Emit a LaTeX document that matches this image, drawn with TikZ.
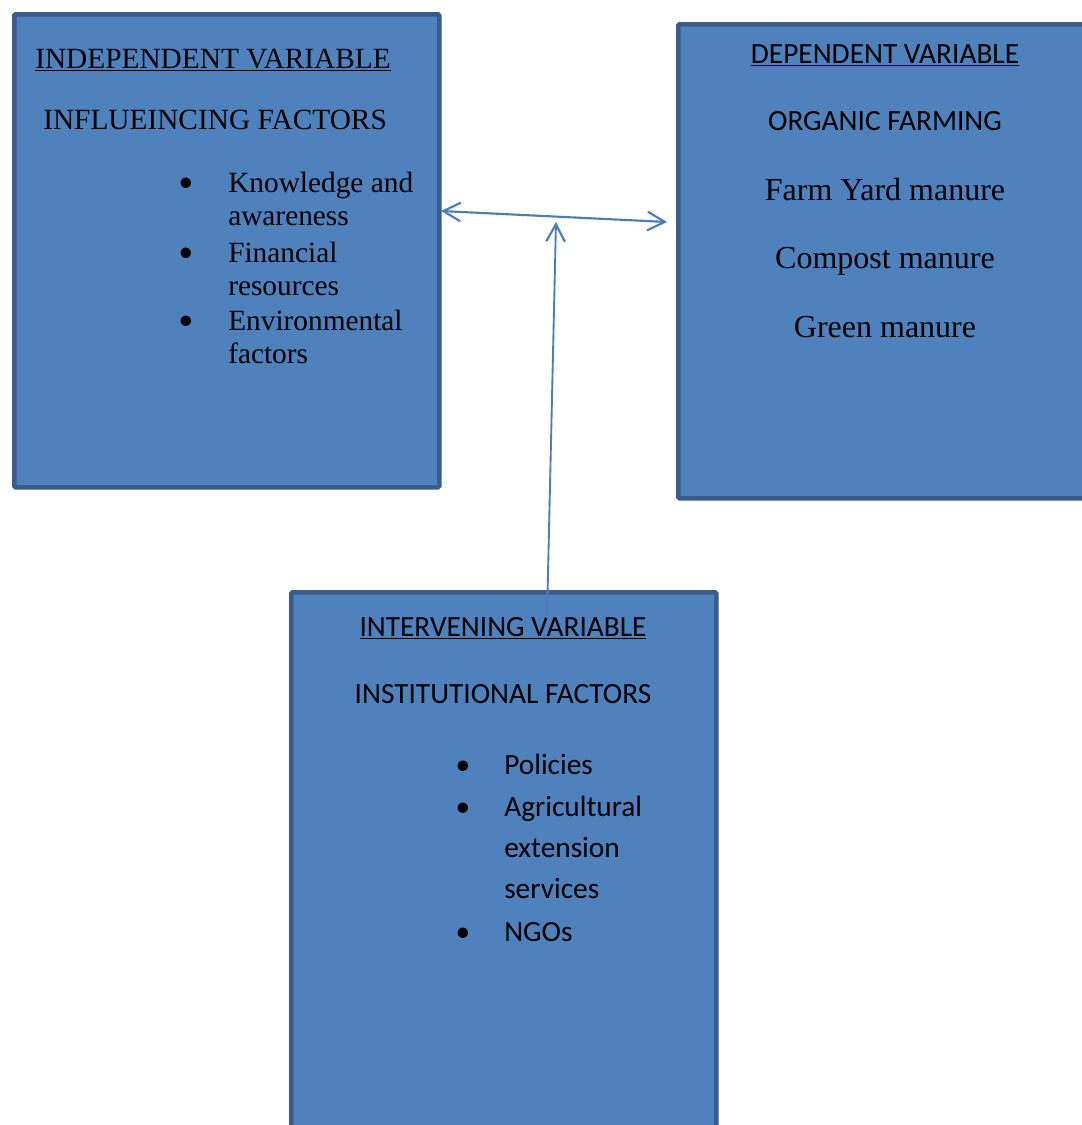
\documentclass[tikz,border=0pt]{standalone}
\usepackage{fontspec}
\setmainfont{Liberation Serif}
\newfontfamily\calibri{Carlito}
\usetikzlibrary{arrows.meta}
\definecolor{boxfill}{HTML}{4F81BD}
\definecolor{boxline}{HTML}{385D8A}
\definecolor{arrowblue}{HTML}{4A7EBB}
\tikzset{
    varbox/.style={draw=boxline, fill=boxfill, line width=3.4pt, rounded corners=1pt, anchor=north west, inner sep=0pt},
    tnr/.style={font=\fontsize{22}{26}\selectfont, inner sep=0pt},
    tnrbig/.style={font=\fontsize{24}{28}\selectfont, inner sep=0pt},
    cal/.style={font=\calibri\fontsize{22}{26}\selectfont, inner sep=0pt},
    link/.style={arrowblue, line width=1.6pt, {Straight Barb[length=13pt,width=14pt,line width=1.6pt]}-{Straight Barb[length=13pt,width=14pt,line width=1.6pt]}},
    uplink/.style={arrowblue, line width=1.4pt, -{Straight Barb[length=13pt,width=14pt,line width=1.6pt]}}
}
\begin{document}
\begin{tikzpicture}[x=0.75pt, y=-0.75pt]
        \useasboundingbox (0,0) rectangle (1082,1125);
        \clip (0,0) rectangle (1082,1125);

        \node[varbox, minimum width=425*0.75pt, minimum height=473*0.75pt] (indep) at (12,12) {};
        \node[varbox, minimum width=430*0.75pt, minimum height=474*0.75pt] (dep) at (676,22) {};
        \node[varbox, minimum width=425*0.75pt, minimum height=560*0.75pt] (interv) at (289,590) {};

        \node[tnr, anchor=base west] (indephead) at (35,68) {\underline{INDEPENDENT VARIABLE}};
        \node[tnr, anchor=base west] (indepsub) at (43,129) {INFLUEINCING FACTORS};
        \node[cal, anchor=base] (b1) at (186,191) {\textbullet};
        \node[cal, anchor=base] (b2) at (186,261) {\textbullet};
        \node[cal, anchor=base] (b3) at (186,329) {\textbullet};
        \node[tnr, anchor=base west] (k1) at (228,192) {Knowledge and};
        \node[tnr, anchor=base west] (k2) at (228,225) {awareness};
        \node[tnr, anchor=base west] (f1) at (228,262) {Financial};
        \node[tnr, anchor=base west] (f2) at (228,295) {resources};
        \node[tnr, anchor=base west] (e1) at (228,330) {Environmental};
        \node[tnr, anchor=base west] (e2) at (228,363) {factors};

        \node[cal, anchor=base] (dephead) at (885,63) {\underline{DEPENDENT VARIABLE}};
        \node[cal, anchor=base] (depsub) at (885,130) {ORGANIC FARMING};
        \node[tnrbig, anchor=base] (fym) at (885,200) {Farm Yard manure};
        \node[tnrbig, anchor=base] (cm) at (885,268) {Compost manure};
        \node[tnrbig, anchor=base] (gm) at (885,337) {Green manure};

        \node[cal, anchor=base] (intervhead) at (503,636) {\underline{INTERVENING VARIABLE}};
        \node[cal, anchor=base] (intervsub) at (503,703) {INSTITUTIONAL FACTORS};
        \node[cal, anchor=base] (c1) at (463,774) {\textbullet};
        \node[cal, anchor=base] (c2) at (463,816) {\textbullet};
        \node[cal, anchor=base] (c3) at (463,941) {\textbullet};
        \node[cal, anchor=base west] (p1) at (504,774) {Policies};
        \node[cal, anchor=base west] (a1) at (504,816) {Agricultural};
        \node[cal, anchor=base west] (a2) at (504,857) {extension};
        \node[cal, anchor=base west] (a3) at (504,898) {services};
        \node[cal, anchor=base west] (n1) at (504,941) {NGOs};

        \coordinate (lnL) at (441,211);
        \coordinate (lnR) at (667,222);
        \coordinate (lnT) at (556,222);
        \coordinate (lnB) at (547,618);

        \draw[link] (lnL) -- (lnR);
        \draw[uplink] (lnB) -- (lnT);

    \end{tikzpicture}
\end{document}
